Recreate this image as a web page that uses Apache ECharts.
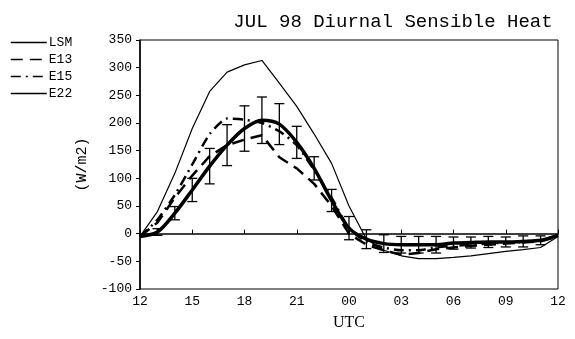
<!DOCTYPE html>
<html><head><meta charset="utf-8">
<script src="https://cdn.jsdelivr.net/npm/echarts@6/dist/echarts.min.js"></script>
<style>html,body{margin:0;padding:0;background:#fff}#c{width:575px;height:339px}</style>
</head><body><div id="c"></div>
<script>
// hours after 12 UTC (0..24)
var hours = [0,1,2,3,4,5,6,7,8,9,10,11,12,13,14,15,16,17,18,19,20,21,22,23,24];
var tickLabels = ['12','15','18','21','00','03','06','09','12'];
var LSM = [-5,3,37,79,122,160,190,205,198,165,118,60,10,-10,-18,-20,-20,-20,-17,-16,-15,-15,-14,-12,-3];
var LSMerr = [0,6,12,21,32,37,41,42,37,29,21,20,21,17,16,15,15,15,11,10,10,9,10,8,0];
var E13 = [-5,20,65,105,140,160,170,178,138,118,90,50,0,-20,-30,-38,-35,-28,-25,-22,-20,-18,-16,-14,-5];
var E15 = [-5,25,70,125,180,208,206,200,185,160,115,65,10,-15,-25,-30,-30,-25,-22,-20,-18,-16,-15,-12,-3];
var E22 = [-5,40,109,190,257,292,305,313,272,230,180,127,50,-10,-30,-40,-45,-45,-43,-40,-36,-32,-29,-25,-5];

function pairs(a){return hours.map(function(h,i){return [h,a[i]];});}
var errData = hours.map(function(h,i){return [h,LSM[i]-LSMerr[i],LSM[i]+LSMerr[i]];}).filter(function(d,i){return LSMerr[i]>0;});

var chart = echarts.init(document.getElementById('c'));
var mono = 'Liberation Mono';
chart.setOption({
  animation:false,
  title:{text:'JUL 98 Diurnal Sensible Heat',left:388,top:7,textAlign:'center',
    textStyle:{fontFamily:mono,fontSize:19,fontWeight:'normal',color:'#000'}},
  legend:{orient:'vertical',left:5,top:31,itemGap:4,itemWidth:36,itemHeight:14,
    itemStyle:{opacity:0},lineStyle:{width:1.6},
    textStyle:{fontFamily:mono,fontSize:13,color:'#000',padding:[0,0,0,-3]},
    data:['LSM','E13','E15','E22']},
  grid:{left:140,right:17,top:40,bottom:50,show:true,borderColor:'#000',borderWidth:1},
  xAxis:{type:'value',min:0,max:24,interval:3,name:'UTC',nameLocation:'middle',nameGap:26,
    nameTextStyle:{fontFamily:'Liberation Serif',fontSize:16,color:'#000'},
    axisLine:{lineStyle:{color:'#000',width:1.5}},axisTick:{inside:true,length:4,lineStyle:{color:'#000'}},
    minorTick:{show:false},splitLine:{show:false},
    axisLabel:{fontFamily:mono,fontSize:13,color:'#000',margin:6,formatter:function(v){return tickLabels[Math.round(v/3)];}}},
  yAxis:{type:'value',min:-100,max:350,interval:50,name:'(W/m2)',nameLocation:'middle',nameGap:46,nameRotate:90,
    nameTextStyle:{fontFamily:mono,fontSize:15,color:'#000'},
    axisLine:{show:true,lineStyle:{color:'#000',width:1.5}},axisTick:{show:true,length:4,lineStyle:{color:'#000'}},
    splitLine:{show:false},
    axisLabel:{fontFamily:mono,fontSize:13,color:'#000',margin:8}},
  series:[
    {name:'LSM',type:'line',data:pairs(LSM),symbol:'none',smooth:0.3,lineStyle:{color:'#000',width:3.5},itemStyle:{color:'#000'},z:5},
    {name:'E13',type:'line',data:pairs(E13),symbol:'none',lineStyle:{color:'#000',width:2.5,type:[12,7]},itemStyle:{color:'#000'}},
    {name:'E15',type:'line',data:pairs(E15),symbol:'none',smooth:0.2,lineStyle:{color:'#000',width:2.5,type:[10,5,2,5]},itemStyle:{color:'#000'}},
    {name:'E22',type:'line',data:pairs(E22),symbol:'none',lineStyle:{color:'#000',width:1.2},itemStyle:{color:'#000'}},
    {name:'err',type:'custom',data:errData,z:6,
      renderItem:function(params,api){
        var x=api.value(0);var lo=api.coord([x,api.value(1)]);var hi=api.coord([x,api.value(2)]);
        var w=5;
        return {type:'group',children:[
          {type:'line',shape:{x1:lo[0],y1:lo[1],x2:hi[0],y2:hi[1]},style:{stroke:'#000',lineWidth:1.3}},
          {type:'line',shape:{x1:lo[0]-w,y1:lo[1],x2:lo[0]+w,y2:lo[1]},style:{stroke:'#000',lineWidth:1.3}},
          {type:'line',shape:{x1:hi[0]-w,y1:hi[1],x2:hi[0]+w,y2:hi[1]},style:{stroke:'#000',lineWidth:1.3}}
        ]};
      }}
  ]
});
</script></body></html>
